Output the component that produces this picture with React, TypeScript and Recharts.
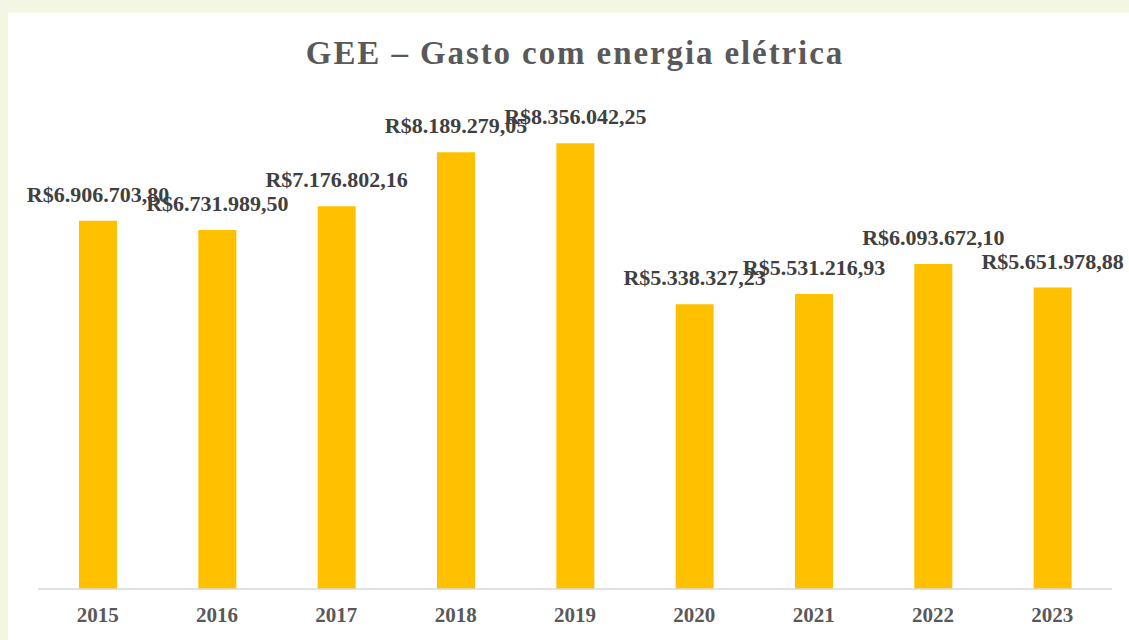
import { BarChart, Bar, XAxis, YAxis, LabelList } from "recharts";

// Gasto anual com energia elétrica (R$)
const years = ["2015", "2016", "2017", "2018", "2019", "2020", "2021", "2022", "2023"];
const gastos = [
  6906703.8, 6731989.5, 7176802.16, 8189279.05, 8356042.25, 5338327.23, 5531216.93,
  6093672.1, 5651978.88,
];

const chartData = years.map((ano, i) => ({ ano, gasto: gastos[i] }));

// R$ 1.234.567,89 style, without relying on locale data
function formatBRL(v: number) {
  const [int, dec] = v.toFixed(2).split(".");
  const withDots = int.replace(/\B(?=(\d{3})+(?!\d))/g, ".");
  return `R$${withDots},${dec}`;
}

const serif = '"Liberation Serif", "Times New Roman", serif';

export default function App() {
  return (
    <div
      style={{
        position: "absolute",
        left: 0,
        top: 0,
        width: 1129,
        height: 640,
        background: "#F4F6E4",
        overflow: "hidden",
      }}
    >
      <div
        style={{
          position: "absolute",
          left: 8,
          top: 13,
          width: 1121,
          height: 627,
          background: "#FFFFFF",
        }}
      >
        <div
          style={{
            position: "absolute",
            left: 567,
            top: 24,
            transform: "translateX(-50%)",
            whiteSpace: "nowrap",
            fontFamily: serif,
            fontWeight: "bold",
            fontSize: 33,
            lineHeight: "33px",
            letterSpacing: 1.9,
            color: "#595959",
          }}
        >
          GEE – Gasto com energia elétrica
        </div>
        <BarChart
          width={1121}
          height={627}
          data={chartData}
          margin={{ top: 96, right: 17, left: 30, bottom: 0 }}
        >
          <XAxis
            dataKey="ano"
            height={51}
            tickLine={false}
            tickMargin={12}
            axisLine={{ stroke: "#D9D9D9", strokeWidth: 1.5 }}
            tick={{ fill: "#595959", fontFamily: serif, fontWeight: "bold", fontSize: 21 }}
          />
          <YAxis hide domain={[0, 9000000]} />
          <Bar dataKey="gasto" fill="#FFC000" barSize={38} isAnimationActive={false}>
            <LabelList
              dataKey="gasto"
              position="top"
              offset={19}
              formatter={(v: any) => formatBRL(Number(v))}
              style={{ fill: "#404040", fontFamily: serif, fontWeight: "bold", fontSize: 22 }}
            />
          </Bar>
        </BarChart>
      </div>
    </div>
  );
}
